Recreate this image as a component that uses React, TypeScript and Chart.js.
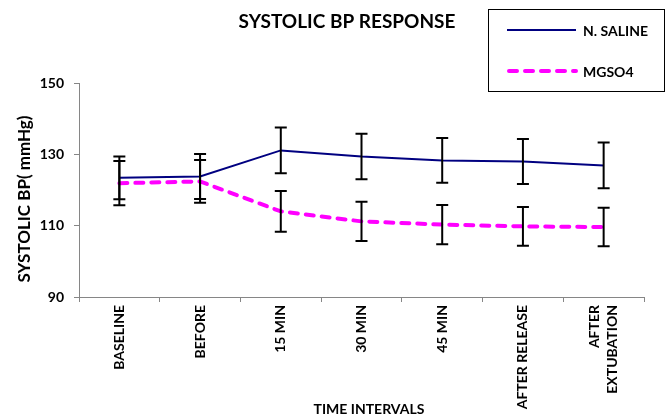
import React, { useEffect, useRef } from "react";
import { Chart, registerables } from "chart.js";

Chart.register(...registerables);

const categories: (string | string[])[] = [
  "BASELINE",
  "BEFORE",
  "15 MIN",
  "30 MIN",
  "45 MIN",
  "AFTER RELEASE",
  ["AFTER", "EXTUBATION"],
];
const salineMean = [123.4, 123.8, 131.1, 129.4, 128.3, 128.0, 126.9];
const salineSD = [6.0, 6.3, 6.4, 6.4, 6.3, 6.3, 6.4];
const mgso4Mean = [121.9, 122.4, 114.0, 111.2, 110.3, 109.8, 109.6];
const mgso4SD = [6.2, 6.0, 5.7, 5.5, 5.5, 5.4, 5.4];
const yTicks = [90, 110, 130, 150];

const titleText = "SYSTOLIC BP RESPONSE";
const yTitle = "SYSTOLIC BP( mmHg)";
const xTitle = "TIME INTERVALS";
const seriesNames = ["N. SALINE", "MGSO4"];

const FONT = "Lato, 'Open Sans', sans-serif";
const SALINE_COLOR = "#000080";
const MG_COLOR = "#FF00FF";
const AXIS_COLOR = "#868686";

const overlay = {
  id: "overlay",
  afterDatasetsDraw(chart: any) {
    const ctx = chart.ctx;
    const xs = chart.scales.x;
    const ys = chart.scales.y;
    const sets = [
      [salineMean, salineSD],
      [mgso4Mean, mgso4SD],
    ];
    ctx.save();
    ctx.strokeStyle = "#000000";
    ctx.lineWidth = 2;
    sets.forEach(([m, sd]) => {
      m.forEach((v, i) => {
        const x = xs.getPixelForValue(i);
        const yt = ys.getPixelForValue(v + sd[i]);
        const yb = ys.getPixelForValue(v - sd[i]);
        ctx.beginPath();
        ctx.moveTo(x, yt);
        ctx.lineTo(x, yb);
        ctx.moveTo(x - 6, yt);
        ctx.lineTo(x + 6, yt);
        ctx.moveTo(x - 6, yb);
        ctx.lineTo(x + 6, yb);
        ctx.stroke();
      });
    });
    ctx.restore();
  },
  afterDraw(chart: any) {
    const ctx = chart.ctx;
    const area = chart.chartArea;
    const xs = chart.scales.x;
    ctx.save();
    ctx.fillStyle = "#000";
    // x tick labels (rotated, top-aligned at axis)
    ctx.font = `bold 14px ${FONT}`;
    ctx.textAlign = "right";
    ctx.textBaseline = "middle";
    categories.forEach((lab, i) => {
      const lines = Array.isArray(lab) ? lab : [lab];
      const x = xs.getPixelForValue(i);
      ctx.save();
      ctx.translate(x, area.bottom + 8);
      ctx.rotate(-Math.PI / 2);
      lines.forEach((ln, j) => {
        ctx.fillText(ln, 0, (j - (lines.length - 1) / 2) * 18);
      });
      ctx.restore();
    });
    ctx.textAlign = "center";
    ctx.textBaseline = "middle";
    // title
    ctx.font = `bold 19px ${FONT}`;
    ctx.fillText(titleText, 347, 22);
    // x title
    ctx.font = `bold 14px ${FONT}`;
    ctx.fillText(xTitle, 369, 409);
    // y title
    ctx.save();
    ctx.translate(25, (area.top + area.bottom) / 2 + 9);
    ctx.rotate(-Math.PI / 2);
    ctx.font = `bold 17px ${FONT}`;
    ctx.fillText(yTitle, 0, 0);
    ctx.restore();
    // legend
    ctx.strokeStyle = "#000";
    ctx.lineWidth = 1;
    ctx.strokeRect(488.5, 9.5, 176, 82);
    ctx.lineWidth = 2;
    ctx.strokeStyle = SALINE_COLOR;
    ctx.beginPath();
    ctx.moveTo(507, 30);
    ctx.lineTo(576, 30);
    ctx.stroke();
    ctx.strokeStyle = MG_COLOR;
    ctx.lineWidth = 4;
    ctx.lineCap = "round";
    ctx.setLineDash([8, 8]);
    ctx.beginPath();
    ctx.moveTo(509, 71);
    ctx.lineTo(576, 71);
    ctx.stroke();
    ctx.setLineDash([]);
    ctx.textAlign = "left";
    ctx.font = `bold 14px ${FONT}`;
    ctx.fillText(seriesNames[0], 583, 31);
    ctx.fillText(seriesNames[1], 583, 72);
    ctx.restore();
  },
};

export default function App() {
  const ref = useRef<HTMLCanvasElement>(null);
  useEffect(() => {
    if (!ref.current) return;
    const chart = new Chart(ref.current, {
      type: "line",
      data: {
        labels: categories,
        datasets: [
          {
            label: seriesNames[0],
            data: salineMean,
            borderColor: SALINE_COLOR,
            borderWidth: 2,
            pointRadius: 0,
            tension: 0,
          },
          {
            label: seriesNames[1],
            data: mgso4Mean,
            borderColor: MG_COLOR,
            borderWidth: 4,
            borderDash: [8, 8],
            borderCapStyle: "round",
            pointRadius: 0,
            tension: 0,
          },
        ],
      },
      options: {
        responsive: false,
        animation: false,
        devicePixelRatio: 1,
        layout: { padding: { top: 83, right: 28, left: 0, bottom: 0 } },
        plugins: {
          legend: { display: false },
          title: { display: false },
          tooltip: { enabled: false },
        },
        scales: {
          x: {
            type: "category",
            offset: true,
            grid: {
              offset: true,
              drawOnChartArea: false,
              drawTicks: true,
              tickLength: 5,
              color: AXIS_COLOR,
            },
            border: { display: true, color: AXIS_COLOR, width: 1 },
            ticks: {
              autoSkip: false,
              minRotation: 90,
              maxRotation: 90,
              padding: 3,
              color: "rgba(0,0,0,0)",
              font: { family: FONT, size: 14, weight: "bold" },
            },
            afterFit(scale: any) {
              scale.height = 120;
            },
          },
          y: {
            min: 90,
            max: 150,
            afterBuildTicks(scale: any) {
              scale.ticks = yTicks.map((v) => ({ value: v }));
            },
            grid: {
              drawOnChartArea: false,
              drawTicks: true,
              tickLength: 5,
              color: AXIS_COLOR,
            },
            border: { display: true, color: AXIS_COLOR, width: 1 },
            ticks: {
              padding: 10,
              color: "#000",
              font: { family: FONT, size: 14, weight: "bold" },
            },
            afterFit(scale: any) {
              scale.width = 79;
            },
          },
        },
      },
      plugins: [overlay],
    } as any);
    return () => chart.destroy();
  }, []);
  return (
    <div style={{ position: "fixed", left: 0, top: 0, width: 672, height: 417, background: "#fff" }}>
      <canvas ref={ref} width={672} height={417} />
    </div>
  );
}
